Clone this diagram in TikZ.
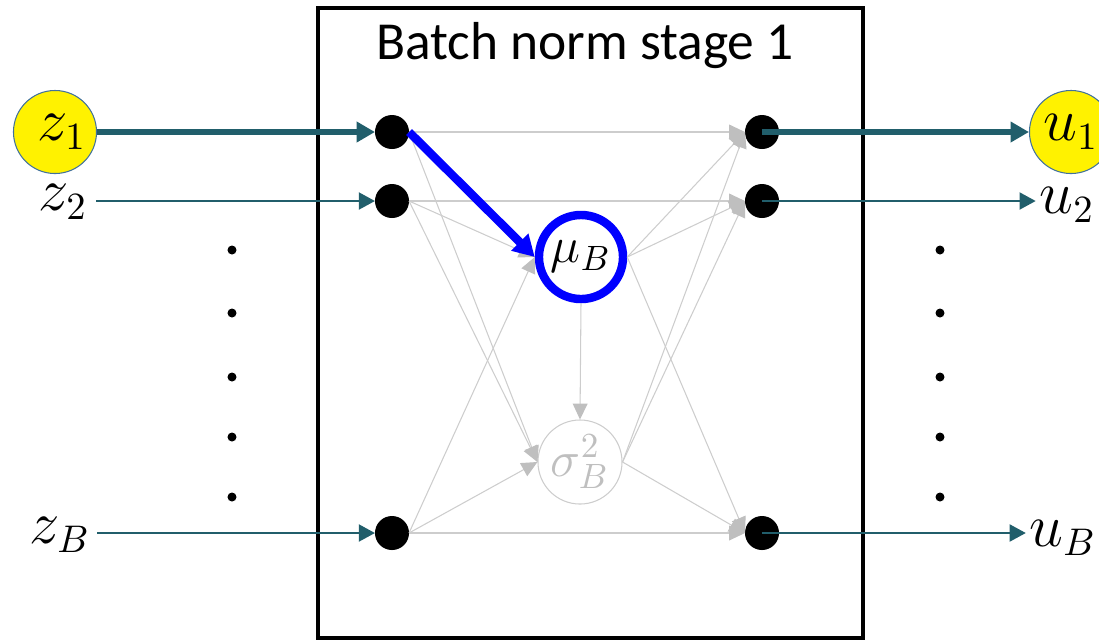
\documentclass[tikz,border=0pt]{standalone}
\usepackage{fontspec}
\setmainfont{Carlito}
\usetikzlibrary{arrows.meta}
\definecolor{tealarrow}{RGB}{33,94,107}
\definecolor{lgray}{RGB}{205,205,205}
\definecolor{hgray}{RGB}{191,191,191}
\definecolor{youtline}{RGB}{65,113,156}
\begin{document}
\begin{tikzpicture}[x=0.01cm,y=-0.01cm,
  mfont/.style={font=\fontsize{16}{18}\selectfont},
  cfont/.style={font=\fontsize{14.5}{17}\selectfont},
  dot/.style={circle,fill=black,minimum size=0.34cm,inner sep=0pt,outer sep=0pt},
  ydot/.style={circle,fill=yellow,draw=youtline,line width=0.3pt,minimum size=0.83cm,inner sep=0pt,mfont},
  lbl/.style={inner sep=0pt,mfont},
  gline/.style={draw=lgray,line width=0.3pt,-{Triangle[length=4.5pt,width=4.2pt,color=hgray]}},
  thickarrow/.style={draw=tealarrow,line width=1.8pt,-{Triangle[length=5.2pt,width=5.6pt]}},
  thinarrow/.style={draw=tealarrow,line width=0.7pt,-{Triangle[length=4.6pt,width=4.8pt]}},
  bluearrow/.style={draw=blue,line width=2.4pt,-{Triangle[length=6pt,width=6.5pt]}}
]
\useasboundingbox (0,0) rectangle (1099,641);
% stage box
\draw[line width=1.4pt] (318,8) rectangle (863,638);
\node[font=\fontsize{15.2}{18}\selectfont] (title) at (585,46) {Batch norm stage 1};

% inner nodes
\node[dot] (L1) at (392,132) {};
\node[dot] (L2) at (392,201) {};
\node[dot] (LB) at (392,533) {};
\node[dot] (R1) at (762,132) {};
\node[dot] (R2) at (762,201) {};
\node[dot] (RB) at (762,533) {};
\node[circle,draw=lgray,line width=0.3pt,minimum size=0.84cm,inner sep=0pt,text=hgray,cfont] (sig) at (580,462) {$\sigma_B^2$};

% gray connections
\draw[gline] (L1.east) -- (sig.west);
\draw[gline] (L2.east) -- (sig.west);
\draw[gline] (LB.east) -- (sig.west);
\draw[gline] (L1.east) -- (R1.west);
\draw[gline] (L2.east) -- (R2.west);
\draw[gline] (LB.east) -- (RB.west);

\node[circle,draw=blue,line width=2.4pt,minimum size=0.84cm,inner sep=0pt,fill=white,cfont] (mu) at (581,257) {$\mu_B$};

\draw[gline] (L2.east) -- (mu.west);
\draw[gline] (LB.east) -- (mu.west);
\draw[gline] (mu.south) -- (sig.north);
\draw[gline] (mu.east) -- (R1.west);
\draw[gline] (mu.east) -- (R2.west);
\draw[gline] (mu.east) -- (RB.west);
\draw[gline] (sig.east) -- (R1.west);
\draw[gline] (sig.east) -- (R2.west);
\draw[gline] (sig.east) -- (RB.west);

\draw[bluearrow] (L1.east) -- (mu.west);

% inputs
\node[ydot] (z1) at (55,132) {\hspace{4pt}$z_1$};
\node[lbl,anchor=base east] (z2) at (88,210) {$z_2$};
\node[lbl,anchor=base east] (zB) at (91,543) {$z_B$};
\draw[thickarrow] (z1.east) -- (L1.west);
\draw[thinarrow] (z2.east |- L2) ++(8,0) coordinate (z2s) -- (L2.west);
\draw[thinarrow] (zB.east |- LB) ++(6,0) coordinate (zBs) -- (LB.west);

% outputs
\node[ydot] (u1) at (1071,132) {$u_1$};
\node[lbl,anchor=base east] (u2) at (1095,213) {$u_2$};
\node[lbl,anchor=base east] (uB) at (1097,546) {$u_B$};
\draw[thickarrow] (R1.center) -- (u1.west);
\draw[thinarrow] (R2.center) -- ([xshift=-0.03cm]u2.west |- R2);
\draw[thinarrow] (RB.center) -- ([xshift=-0.03cm]uB.west |- RB);

% vertical ellipses
\foreach \yy in {250,313,377,437,497} {
  \fill (232,\yy) circle (0.045cm);
  \fill (940,\yy) circle (0.045cm);
}
\end{tikzpicture}
\end{document}
